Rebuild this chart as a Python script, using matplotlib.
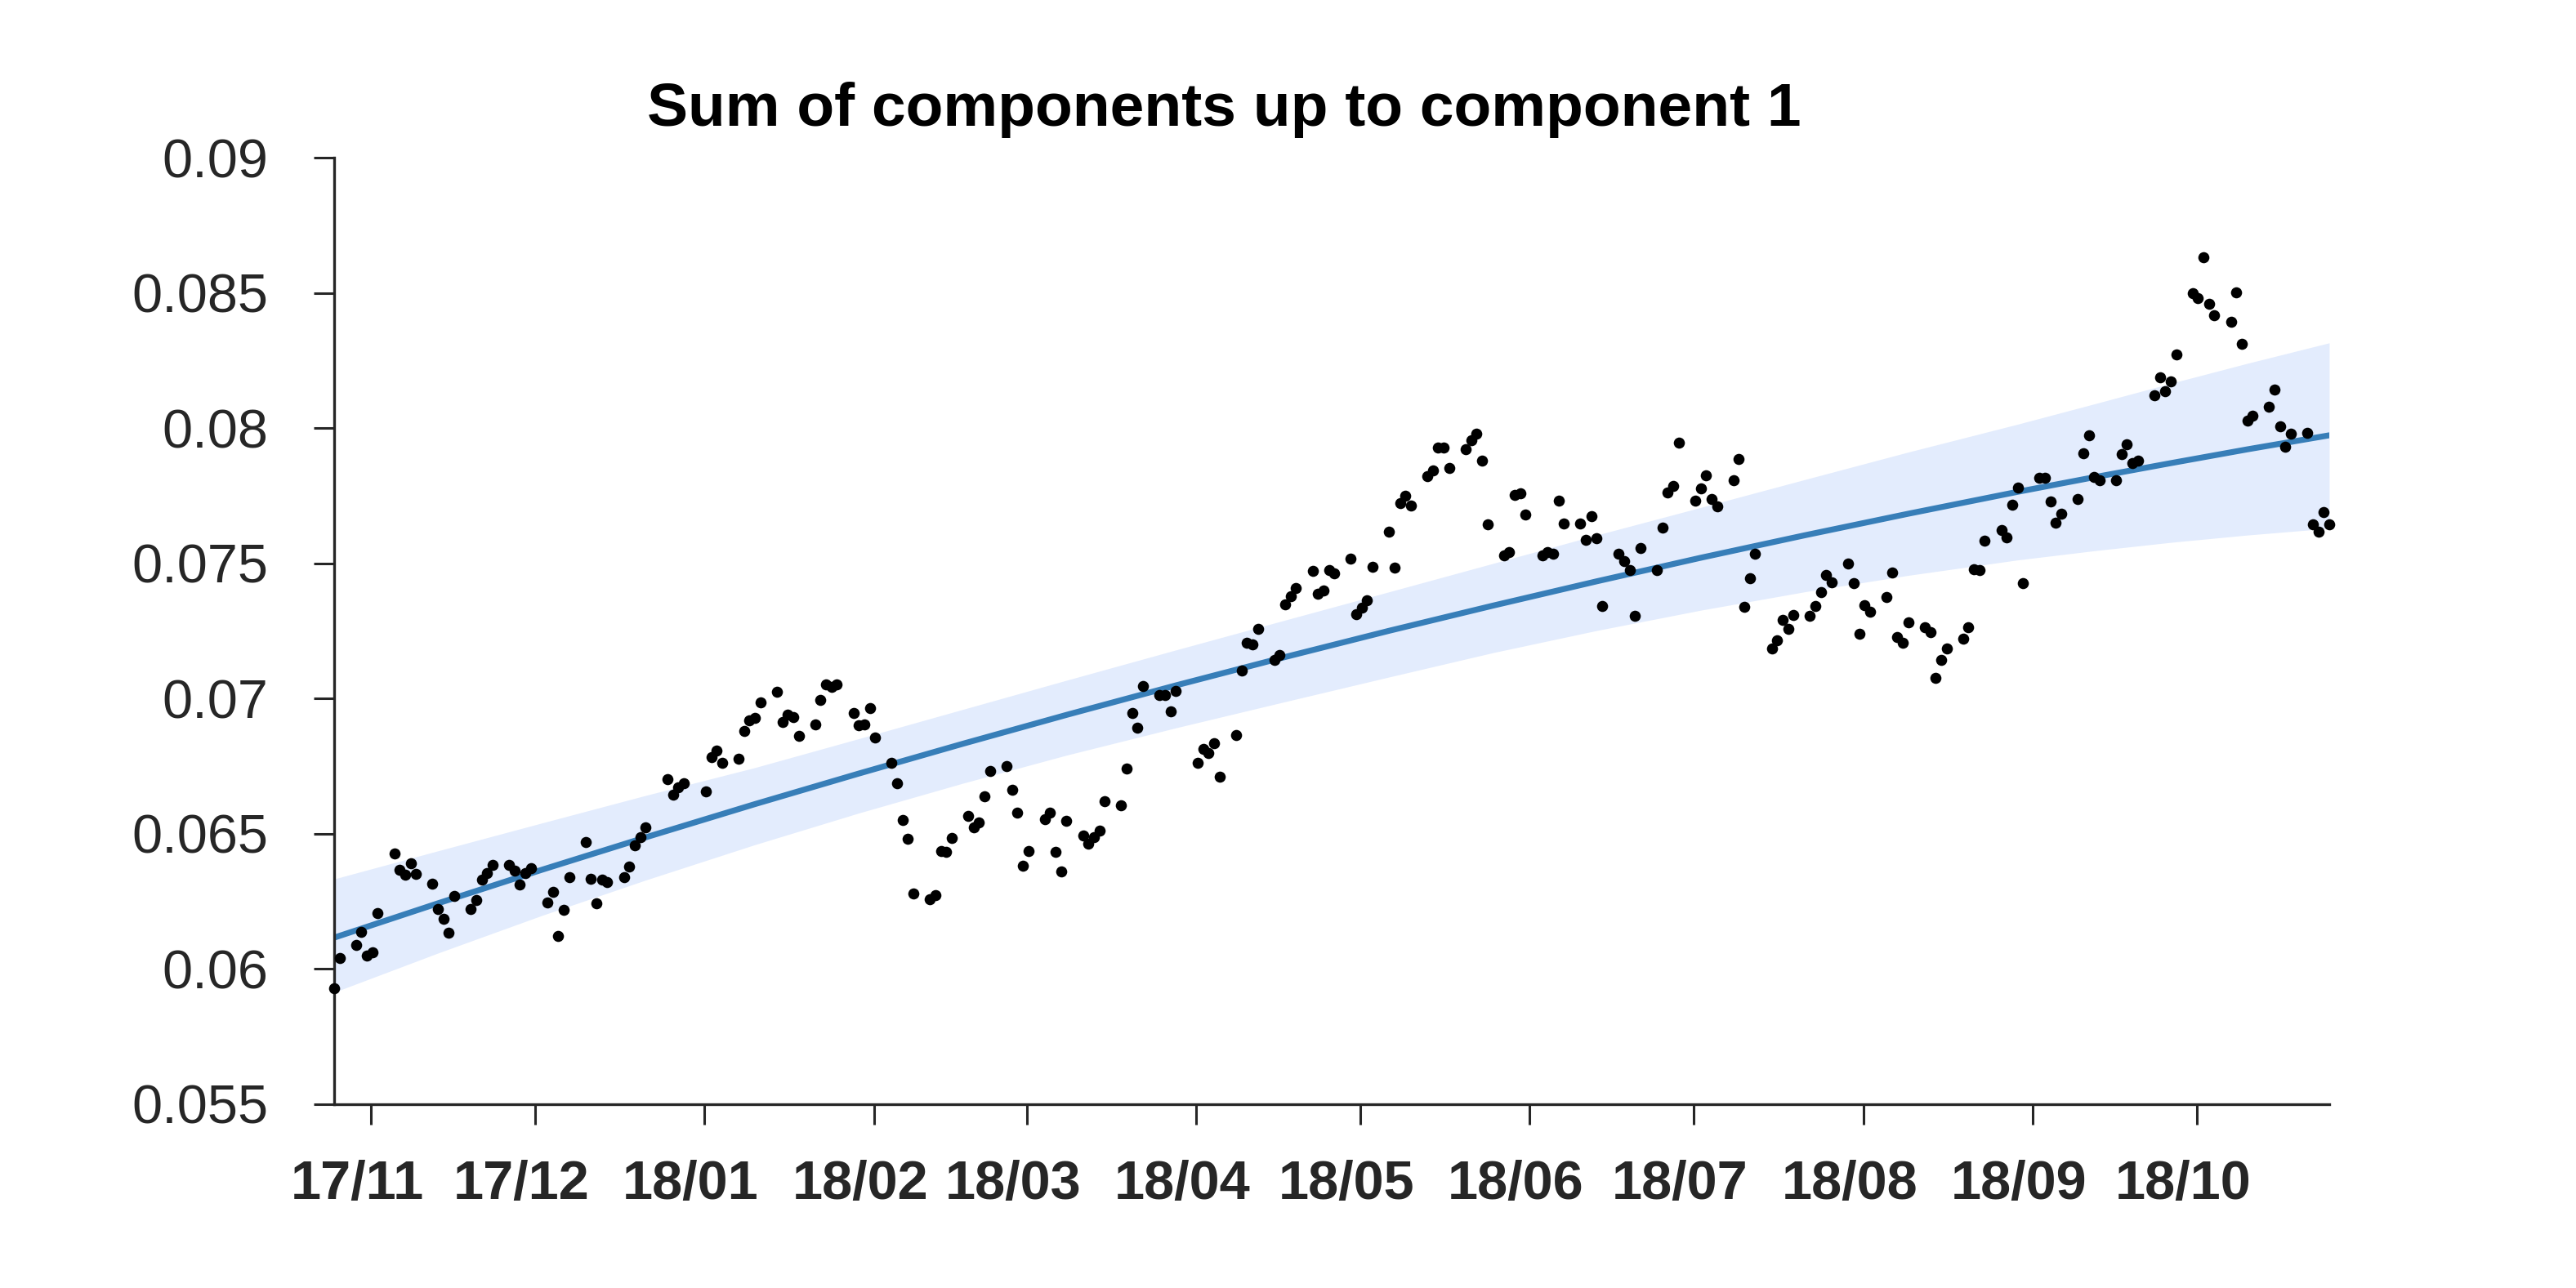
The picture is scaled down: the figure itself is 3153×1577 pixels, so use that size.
import pandas as pd
import matplotlib
matplotlib.use("Agg")
import matplotlib.pyplot as plt
import matplotlib.dates as mdates
import matplotlib.transforms as mtransforms
from matplotlib.ticker import FuncFormatter

plt.rcParams['font.family'] = 'Liberation Sans'
ink = '#262626'

# observations: one per trading day, 26 Oct 2017 .. 26 Oct 2018
start_date = "2017-10-26"
end_date = "2018-10-26"
closed_days = ["2017-12-25", "2018-01-01", "2018-03-30"]

values = [
    # Oct 26 - Jan 11
    0.05930, 0.06042,
    0.06089, 0.06136, 0.06051, 0.06061, 0.06206,
    0.06427, 0.06368, 0.06348, 0.06392, 0.06352,
    0.06315, 0.06222, 0.06186, 0.06135, 0.06271,
    0.06222, 0.06256, 0.06332, 0.06355, 0.06385,
    0.06385, 0.06363, 0.06311, 0.06355, 0.06373,
    0.06245, 0.06286, 0.06121, 0.06220, 0.06340,
    0.06469, 0.06335, 0.06244, 0.06330, 0.06322,
    0.06341, 0.06380, 0.06456, 0.06488, 0.06524,
    0.06702, 0.06644, 0.06673, 0.06686,
    0.06656, 0.06785, 0.06807, 0.06762,
    0.06777, 0.06881, 0.06920, 0.06928,
    # Jan 12 - Mar 29
    0.06987,
    0.07025, 0.06915, 0.06941, 0.06931, 0.06861,
    0.06904, 0.06996, 0.07053, 0.07043, 0.07052,
    0.06946, 0.06903, 0.06905, 0.06965, 0.06857,
    0.06762, 0.06686, 0.06551, 0.06481, 0.06278,
    0.06257, 0.06272, 0.06436, 0.06433, 0.06484,
    0.06567, 0.06524, 0.06541, 0.06638, 0.06731,
    0.06750, 0.06662, 0.06578, 0.06383, 0.06437,
    0.06554, 0.06578, 0.06434, 0.06361, 0.06549,
    0.06495, 0.06464, 0.06487, 0.06511, 0.06621,
    0.06605, 0.06742, 0.06948, 0.06891, 0.07046,
    0.07012, 0.07012, 0.06954, 0.07028,
    # Apr 2 - Jun 14
    0.06764, 0.06815, 0.06800, 0.06834, 0.06711,
    0.06865, 0.07104, 0.07208, 0.07202, 0.07258,
    0.07142, 0.07160, 0.07349, 0.07379, 0.07408,
    0.07472, 0.07387, 0.07400, 0.07477, 0.07464,
    0.07518, 0.07313, 0.07336, 0.07363, 0.07487,
    0.07618, 0.07485, 0.07723, 0.07750, 0.07713,
    0.07824, 0.07845, 0.07929, 0.07929, 0.07852,
    0.07924, 0.07956, 0.07981, 0.07881, 0.07645,
    0.07531, 0.07541, 0.07753, 0.07760, 0.07680,
    0.07531, 0.07541, 0.07536, 0.07732, 0.07647,
    0.07647, 0.07588, 0.07674, 0.07593,
    # Jun 15 - Aug 30
    0.07344,
    0.07535, 0.07509, 0.07474, 0.07306, 0.07556,
    0.07474, 0.07632, 0.07763, 0.07787, 0.07946,
    0.07731, 0.07778, 0.07825, 0.07739, 0.07712,
    0.07808, 0.07887, 0.07340, 0.07446, 0.07535,
    0.07185, 0.07217, 0.07291, 0.07258, 0.07308,
    0.07306, 0.07344, 0.07394, 0.07456, 0.07429,
    0.07499, 0.07426, 0.07240, 0.07346, 0.07321,
    0.07376, 0.07466, 0.07229, 0.07208, 0.07282,
    0.07263, 0.07247, 0.07077, 0.07142, 0.07184,
    0.07222, 0.07264, 0.07479, 0.07474, 0.07583,
    0.07623, 0.07595, 0.07716, 0.07780,
    # Aug 31 - Oct 26
    0.07427,
    0.07817, 0.07817, 0.07728, 0.07652, 0.07684,
    0.07738, 0.07908, 0.07975, 0.07821, 0.07809,
    0.07807, 0.07905, 0.07941, 0.07871, 0.07880,
    0.08122, 0.08188, 0.08136, 0.08173, 0.08274,
    0.08500, 0.08482, 0.08632, 0.08459, 0.08418,
    0.08393, 0.08502, 0.08311, 0.08027, 0.08045,
    0.08079, 0.08143, 0.08007, 0.07931, 0.07979,
    0.07984, 0.07645, 0.07618, 0.07690, 0.07645,
]

trend_dates = ["2017-10-26", "2017-11-14", "2017-12-03", "2017-12-22",
               "2018-01-11", "2018-01-30", "2018-02-18", "2018-03-09",
               "2018-03-29", "2018-04-17", "2018-05-07", "2018-05-26",
               "2018-06-14", "2018-07-03", "2018-07-22", "2018-08-10",
               "2018-08-30", "2018-09-13", "2018-09-27", "2018-10-11",
               "2018-10-26"]
trend_mid = [0.06116, 0.06243, 0.06367, 0.06487, 0.06610, 0.06723, 0.06833,
             0.06940, 0.07049, 0.07149, 0.07251, 0.07344, 0.07434, 0.07521,
             0.07604, 0.07684, 0.07765, 0.07819, 0.07871, 0.07922, 0.07974]
trend_upper = [0.06333, 0.06437, 0.06540, 0.06642, 0.06745, 0.06852, 0.06960,
               0.07068, 0.07180, 0.07285, 0.07395, 0.07500, 0.07605, 0.07707,
               0.07810, 0.07912, 0.08015, 0.08090, 0.08166, 0.08240, 0.08316]
trend_lower = [0.05914, 0.06059, 0.06198, 0.06329, 0.06460, 0.06577, 0.06687,
               0.06791, 0.06892, 0.06984, 0.07080, 0.07170, 0.07252, 0.07327,
               0.07395, 0.07456, 0.07513, 0.07547, 0.07578, 0.07605, 0.07630]

y_ticks = [0.055, 0.06, 0.065, 0.07, 0.075, 0.08, 0.085, 0.09]

dates = pd.bdate_range(start_date, end_date)
dates = dates[~dates.isin(pd.to_datetime(closed_days))]
trend_x = pd.to_datetime(trend_dates)

fig = plt.figure(figsize=(15.765, 7.885), dpi=200)
ax = fig.add_axes([0.1297, 0.1427, 0.7745, 0.7347])

ax.fill_between(trend_x, trend_lower, trend_upper, color='#e3ecfd', lw=0)
ax.plot(trend_x, trend_mid, color='#377eb8', lw=2.6, solid_capstyle='round')
ax.scatter(dates, values, s=24, c='k', lw=0, zorder=3, clip_on=False)

ax.set_xlim(dates[0], dates[-1])
ax.set_ylim(0.055, 0.09)

ax.set_yticks(y_ticks)
ax.yaxis.set_major_formatter(FuncFormatter(lambda v, _: '%g' % v))
# month ticks sit a little after midnight in the original
month_ticks = pd.date_range("2017-11-01", "2018-10-01", freq="MS") + pd.Timedelta(hours=18)
ax.set_xticks(month_ticks)
ax.xaxis.set_major_formatter(mdates.DateFormatter('%y/%m'))

for s in ['top', 'right']:
    ax.spines[s].set_visible(False)
for s in ['left', 'bottom']:
    ax.spines[s].set_color(ink)
    ax.spines[s].set_linewidth(1.2)

ax.tick_params(axis='both', direction='out', length=9, width=1.1, color=ink,
               labelcolor=ink, labelsize=24)
ax.tick_params(axis='y', pad=20)
ax.tick_params(axis='x', pad=15.5)
shift = mtransforms.ScaledTranslation(-17 / 200, 0, fig.dpi_scale_trans)
for lab in ax.get_xticklabels():
    lab.set_fontweight('bold')
    lab.set_transform(lab.get_transform() + shift)

ax.set_title('Sum of components up to component 1', fontsize=27,
             fontweight='bold', color='black', x=0.446, pad=14)

fig.savefig('out.png', dpi=200)
